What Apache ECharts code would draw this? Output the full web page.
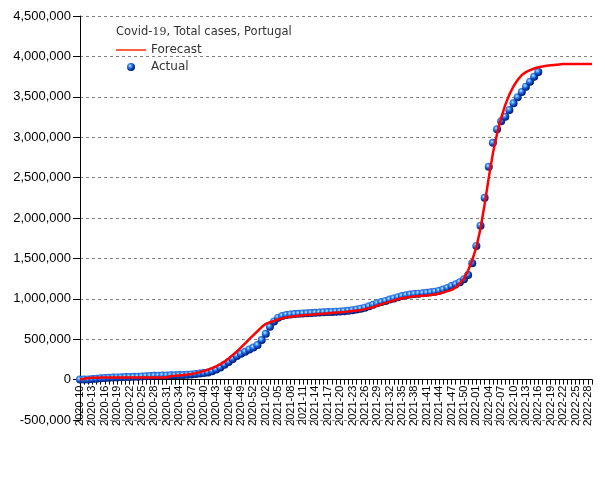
<!DOCTYPE html>
<html>
<head>
<meta charset="utf-8">
<script src="https://cdn.jsdelivr.net/npm/echarts@6/dist/echarts.min.js"></script>
<style>html,body{margin:0;padding:0;background:#fff;}#c{width:605px;height:480px;}</style>
</head>
<body>
<div id="c"></div>
<script>
const weeks = [
'2020-10','2020-11','2020-12','2020-13','2020-14','2020-15','2020-16','2020-17','2020-18','2020-19',
'2020-20','2020-21','2020-22','2020-23','2020-24','2020-25','2020-26','2020-27','2020-28','2020-29',
'2020-30','2020-31','2020-32','2020-33','2020-34','2020-35','2020-36','2020-37','2020-38','2020-39',
'2020-40','2020-41','2020-42','2020-43','2020-44','2020-45','2020-46','2020-47','2020-48','2020-49',
'2020-50','2020-51','2020-52','2020-53',
'2021-01','2021-02','2021-03','2021-04','2021-05','2021-06','2021-07','2021-08','2021-09','2021-10',
'2021-11','2021-12','2021-13','2021-14','2021-15','2021-16','2021-17','2021-18','2021-19','2021-20',
'2021-21','2021-22','2021-23','2021-24','2021-25','2021-26','2021-27','2021-28','2021-29','2021-30',
'2021-31','2021-32','2021-33','2021-34','2021-35','2021-36','2021-37','2021-38','2021-39','2021-40',
'2021-41','2021-42','2021-43','2021-44','2021-45','2021-46','2021-47','2021-48','2021-49','2021-50',
'2021-51','2021-52',
'2022-01','2022-02','2022-03','2022-04','2022-05','2022-06','2022-07','2022-08','2022-09','2022-10',
'2022-11','2022-12','2022-13','2022-14','2022-15','2022-16','2022-17','2022-18','2022-19','2022-20',
'2022-21','2022-22','2022-23','2022-24','2022-25','2022-26','2022-27','2022-28','2022-29'
];

// Actual weekly cumulative cases (2020-10 .. 2022-16)
const actual2020 = [
20,170,1600,6000,11300,16600,20200,23400,25300,27300,
28800,30800,32700,34400,36500,39100,41900,44100,46500,48400,
50200,51700,52800,54200,55700,57600,60500,64600,69200,74700,
81300,89100,103700,124400,149400,183400,217300,256000,290700,318600,
344000,374000,396000,427000
];
const actual2021 = [
489000,566000,653000,720000,767000,787000,800000,806000,811000,814000,
817000,820000,823000,826000,830000,833000,836000,838000,841000,844000,
847000,851000,858000,868000,877000,890000,907000,926000,944000,960000,
974000,990000,1005000,1020000,1034000,1044000,1052000,1059000,1064000,1069000,
1074000,1080000,1088000,1099000,1114000,1135000,1158000,1180000,1205000,1241000,
1294000,1440000
];
const actual2022 = [
1655000,1905000,2250000,2635000,2930000,3098000,3197000,3254000,3337000,3419000,
3494000,3560000,3625000,3687000,3749000,3807000
];

// Forecast (2020-10 .. 2022-29)
const forecast2020 = [
0,10000,20000,23000,24000,25000,25000,25000,25000,25000,
25000,25000,25000,25000,25000,25000,25000,25000,25000,25000,
25000,26000,45000,48000,52000,56000,62000,70000,80000,92000,
106000,122000,142000,165000,192000,222000,262000,305000,350000,400000,
449000,500000,550000,600000
];
const forecast2021 = [
650000,690000,710000,725000,745000,760000,770000,778000,785000,790000,
795000,800000,804000,808000,812000,816000,820000,825000,829000,833000,
838000,843000,849000,855000,861000,872000,885000,898000,915000,933000,
950000,965000,980000,995000,1006000,1016000,1024000,1030000,1034000,1038000,
1042000,1048000,1056000,1065000,1080000,1095000,1110000,1140000,1190000,1250000,
1350000,1480000
];
const forecast2022 = [
1640000,1870000,2170000,2500000,2800000,3040000,3240000,3400000,3530000,3630000,
3710000,3770000,3805000,3830000,3850000,3865000,3875000,3885000,3890000,3895000,
3900000,3905000,3905000,3905000,3905000,3905000,3905000,3905000,3905000
];

const actual = actual2020.concat(actual2021, actual2022);
const forecast = forecast2020.concat(forecast2021, forecast2022);

const yMin = -500000, yMax = 4500000, yStep = 500000;
const gridTop = 16, gridBottom = 60, chartH = 480;
// place the category axis on the zero line
const zeroOffset = -((chartH - gridTop - gridBottom) * (0 - yMin) / (yMax - yMin));

const sphere = {
  type: 'radial', x: 0.38, y: 0.35, r: 0.7,
  colorStops: [
    {offset: 0, color: '#d0ecff'},
    {offset: 0.25, color: '#4a9cf5'},
    {offset: 0.6, color: '#0a46c8'},
    {offset: 1, color: '#001050'}
  ]
};

const chart = echarts.init(document.getElementById('c'), null, {renderer: 'canvas'});
chart.setOption({
  animation: false,
  backgroundColor: '#ffffff',
  title: {
    text: 'Covid-{s|19}, Total cases, Portugal',
    left: 111, top: 21,
    textStyle: {
      fontFamily: 'DejaVu Sans', fontSize: 11.5, fontWeight: 'normal', color: '#333',
      rich: { s: { fontFamily: 'DejaVu Serif', fontSize: 11, color: '#333' } }
    }
  },
  legend: {
    orient: 'vertical', left: 111, top: 39,
    itemWidth: 30, itemHeight: 8, itemGap: 5,
    textStyle: { fontFamily: 'DejaVu Sans', fontSize: 12, color: '#333' },
    data: [
      { name: 'Forecast', icon: 'path://M0,0L30,0L30,1.6L0,1.6Z', itemStyle: { color: '#ff3a10' } },
      { name: 'Actual', icon: 'circle' }
    ]
  },
  grid: { left: 80, right: 13, top: gridTop, bottom: gridBottom, containLabel: false },
  xAxis: {
    type: 'category', data: weeks, boundaryGap: false,
    offset: zeroOffset,
    axisLine: { onZero: false, lineStyle: { color: '#000', width: 1 } },
    axisTick: { show: true, interval: 0, length: 5, lineStyle: { color: '#000' } },
    axisLabel: { interval: 2, rotate: 90, margin: 6, fontFamily: 'Liberation Sans', fontSize: 11, color: '#000' },
    splitLine: { show: false }
  },
  yAxis: {
    type: 'value', min: yMin, max: yMax, interval: yStep,
    axisLine: { show: true, lineStyle: { color: '#000', width: 1 } },
    axisTick: { show: true, length: 7, lineStyle: { color: '#000' } },
    axisLabel: {
      margin: 9, fontFamily: 'Liberation Sans', fontSize: 13, color: '#000',
      formatter: v => v.toLocaleString('en-US')
    },
    splitLine: { show: true, lineStyle: { color: '#808080', type: [3, 3], width: 1 } }
  },
  series: [
    {
      name: 'Actual', type: 'scatter', data: actual, symbol: 'circle', symbolSize: 8,
      itemStyle: { color: sphere, opacity: 1 }, z: 2
    },
    {
      name: 'Forecast', type: 'line', data: forecast, showSymbol: false, symbol: 'none',
      lineStyle: { color: '#ff0000', width: 2.5 }, itemStyle: { color: '#ff0000' }, z: 3
    }
  ]
});
</script>
</body>
</html>
